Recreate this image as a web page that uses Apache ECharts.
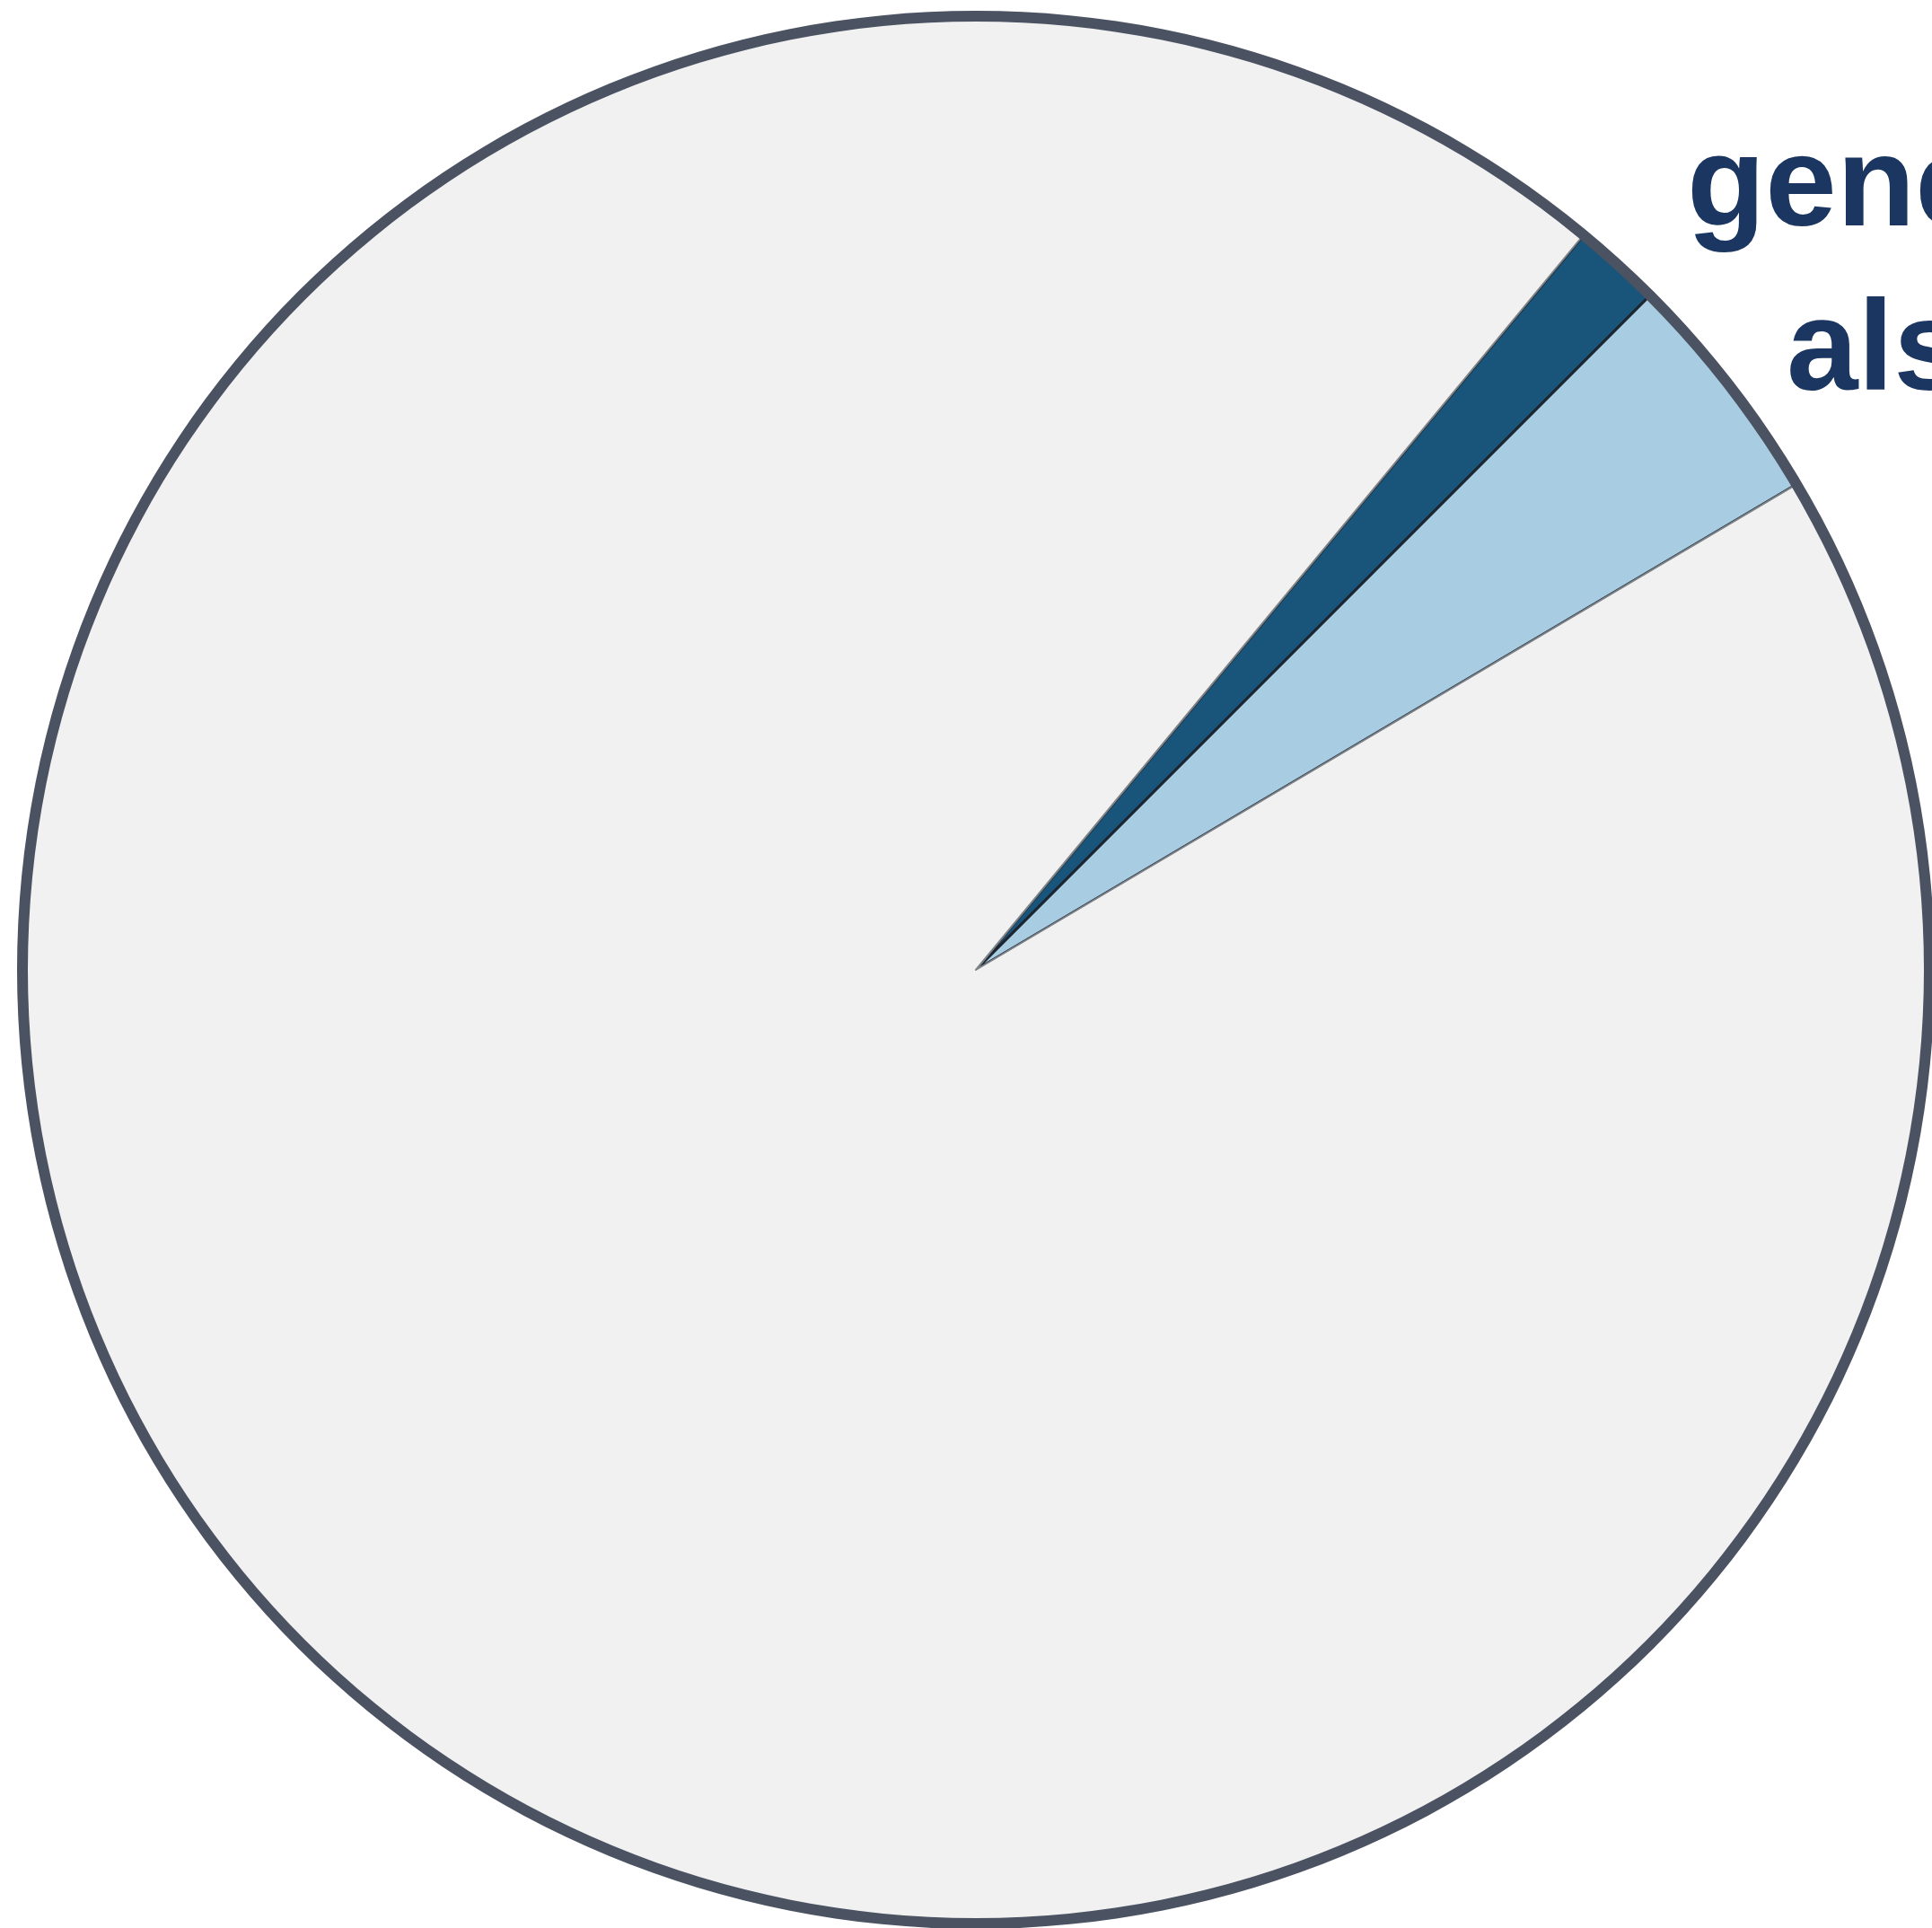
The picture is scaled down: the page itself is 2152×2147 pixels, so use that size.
<!doctype html>
<html>
<head>
<meta charset="utf-8">
<script src="https://cdn.jsdelivr.net/npm/echarts@6/dist/echarts.min.js"></script>
<style>
html, body { margin: 0; padding: 0; background: #fff; }
#main { width: 2152px; height: 2147px; }
</style>
</head>
<body>
<div id="main"></div>
<script type="text/javascript">
// slices, clockwise from the dark one
var sliceNames = ['dark', 'light', 'rest'];
var sliceValues = [1.5, 4.0, 94.5];
var sliceColors = ['#19557a', '#a8cde2', '#f1f1f1'];
var sliceBorders = ['#111820', '#1d2630', '#7d8289'];
var labelLines = ['generic', 'also'];

var myChart = echarts.init(document.getElementById('main'));

var pieData = [];
for (var i = 0; i < sliceNames.length; i++) {
    pieData.push({
        name: sliceNames[i],
        value: sliceValues[i],
        itemStyle: {
            color: sliceColors[i],
            borderColor: sliceBorders[i],
            borderWidth: i === 2 ? 2 : 3
        }
    });
}

var center = [1087, 1080];
var labelFont = 'bold 143px "Liberation Sans", Arial, sans-serif';

option = {
    backgroundColor: '#fff',
    animation: false,
    graphic: [
        {
            type: 'text',
            z: 10,
            style: {
                x: 1879, y: 212,
                text: labelLines[0],
                font: labelFont,
                fill: '#1b3761',
                verticalAlign: 'middle'
            }
        },
        {
            type: 'text',
            z: 10,
            style: {
                x: 1990, y: 395,
                text: labelLines[1],
                font: labelFont,
                fill: '#1b3761',
                verticalAlign: 'middle'
            }
        }
    ],
    series: [
        {
            type: 'pie',
            center: center,
            radius: [0, 1062],
            startAngle: 50.4,
            clockwise: true,
            silent: true,
            label: { show: false },
            labelLine: { show: false },
            data: pieData
        },
        {
            // outline ring
            type: 'pie',
            center: center,
            radius: [1056, 1068],
            silent: true,
            z: 5,
            label: { show: false },
            labelLine: { show: false },
            data: [{ value: 1, itemStyle: { color: '#4b5262', borderWidth: 0 } }]
        }
    ]
};

myChart.setOption(option);
</script>
</body>
</html>
